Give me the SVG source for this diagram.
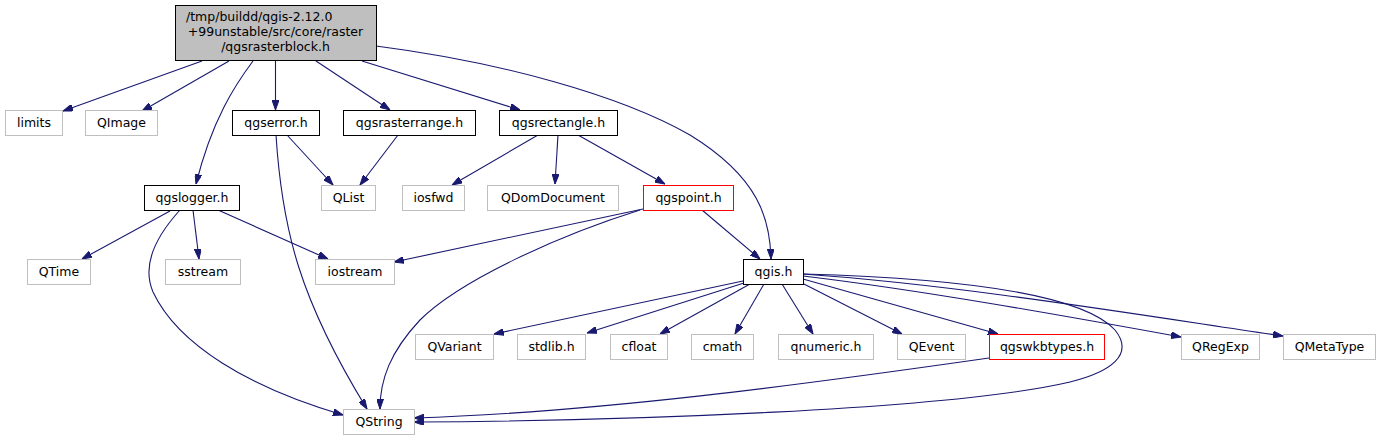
<svg xmlns="http://www.w3.org/2000/svg" width="1381" height="440" viewBox="0 0 1381 440">
<style>
.n rect{fill:#fff;stroke:#bfbfbf;stroke-width:1}
.d rect{stroke:#000}
.r rect{stroke:#ff0000}
.root rect{fill:#bfbfbf;stroke:#000}
text{font-family:"DejaVu Sans","Liberation Sans",sans-serif;font-size:12.5px;fill:#000;text-anchor:middle}
.e path{fill:none;stroke:#191970;stroke-width:1.1;marker-end:url(#ah)}
</style>
<defs>
<marker id="ah" viewBox="0 0 10 7" refX="10" refY="3.5" markerWidth="10" markerHeight="7" markerUnits="userSpaceOnUse" orient="auto">
<path d="M0,0 L10,3.5 L0,7 z" fill="#191970" stroke="#191970"/>
</marker>
</defs>
<rect width="1381" height="440" fill="#fff"/>
<g id="connectors" class="e">
<path d="M202,61 L63,111"/>
<path d="M229,61 L142,111"/>
<path d="M253,61 C235,85 212,120 196,184"/>
<path d="M275.5,61 L275.5,110"/>
<path d="M316,61 L390,110"/>
<path d="M362,61 L520,110"/>
<path d="M376,46 C500,62 620,95 690,135 C760,178 770,220 771,259"/>
<path d="M287,135 L333,185"/>
<path d="M276,135 C282,230 300,300 367,409"/>
<path d="M398,135 L360,185"/>
<path d="M538,135 L452,185"/>
<path d="M558,135 L555,184"/>
<path d="M578,135 L665,184"/>
<path d="M702,210 L760,259"/>
<path d="M643,209 L394,262"/>
<path d="M640,210 C560,235 460,280 420,320 C390,352 380,380 380,409"/>
<path d="M170,211 L82,259"/>
<path d="M193,210 L199,259"/>
<path d="M218,210 L328,259"/>
<path d="M180,210 C160,232 140,262 153,292 C178,345 250,388 343,415"/>
<path d="M743,281 L494,334"/>
<path d="M744,283 L587,333"/>
<path d="M750,284 L660,334"/>
<path d="M764,284 L735,334"/>
<path d="M782,284 L813,334"/>
<path d="M800,282 L902,334"/>
<path d="M803,279 L998,334"/>
<path d="M803,276 C920,290 1060,315 1181,337"/>
<path d="M803,274 C960,285 1140,315 1283,336"/>
<path d="M803,274 C950,278 1080,292 1115,330 C1135,355 1110,372 1070,382 C950,410 620,421 414,422"/>
<path d="M989,358 C800,385 600,412 414,418"/>
</g>
<g id="root" class="n root"><rect x="175.5" y="5.5" width="201" height="55"/>
<text x="186" y="21" style="text-anchor:start">/tmp/buildd/qgis-2.12.0</text>
<text x="275.5" y="36">+99unstable/src/core/raster</text>
<text x="275.5" y="51">/qgsrasterblock.h</text></g>
<g id="limits" class="n"><rect x="5.5" y="110.5" width="57" height="25"/><text x="34" y="127">limits</text></g>
<g id="QImage" class="n"><rect x="85.5" y="110.5" width="72" height="25"/><text x="121.5" y="127">QImage</text></g>
<g id="qgserror" class="n d"><rect x="232.5" y="110.5" width="87" height="25"/><text x="276" y="127">qgserror.h</text></g>
<g id="qgsrasterrange" class="n d"><rect x="343.5" y="110.5" width="132" height="25"/><text x="409.5" y="127">qgsrasterrange.h</text></g>
<g id="qgsrectangle" class="n d"><rect x="499.5" y="110.5" width="118" height="25"/><text x="558.5" y="127">qgsrectangle.h</text></g>
<g id="qgslogger" class="n d"><rect x="144.5" y="185.5" width="95" height="25"/><text x="192" y="202">qgslogger.h</text></g>
<g id="QList" class="n"><rect x="321.5" y="185.5" width="54" height="25"/><text x="348.5" y="202">QList</text></g>
<g id="iosfwd" class="n"><rect x="402.5" y="185.5" width="62" height="25"/><text x="433.5" y="202">iosfwd</text></g>
<g id="QDomDocument" class="n"><rect x="487.5" y="185.5" width="131" height="25"/><text x="553" y="202">QDomDocument</text></g>
<g id="qgspoint" class="n r"><rect x="643.5" y="185.5" width="90" height="25"/><text x="688.5" y="202">qgspoint.h</text></g>
<g id="QTime" class="n"><rect x="27.5" y="259.5" width="63" height="25"/><text x="59" y="276">QTime</text></g>
<g id="sstream" class="n"><rect x="165.5" y="259.5" width="75" height="25"/><text x="203" y="276">sstream</text></g>
<g id="iostream" class="n"><rect x="315.5" y="259.5" width="79" height="25"/><text x="355" y="276">iostream</text></g>
<g id="qgis" class="n d"><rect x="743.5" y="259.5" width="60" height="25"/><text x="773.5" y="276">qgis.h</text></g>
<g id="QVariant" class="n"><rect x="415.5" y="334.5" width="78" height="25"/><text x="454.5" y="351">QVariant</text></g>
<g id="stdlib" class="n"><rect x="517.5" y="334.5" width="68" height="25"/><text x="551.5" y="351">stdlib.h</text></g>
<g id="cfloat" class="n"><rect x="610.5" y="334.5" width="57" height="25"/><text x="639" y="351">cfloat</text></g>
<g id="cmath" class="n"><rect x="691.5" y="334.5" width="62" height="25"/><text x="722.5" y="351">cmath</text></g>
<g id="qnumeric" class="n"><rect x="778.5" y="334.5" width="95" height="25"/><text x="826" y="351">qnumeric.h</text></g>
<g id="QEvent" class="n"><rect x="897.5" y="334.5" width="68" height="25"/><text x="931.5" y="351">QEvent</text></g>
<g id="qgswkbtypes" class="n r"><rect x="989.5" y="334.5" width="115" height="25"/><text x="1047" y="351">qgswkbtypes.h</text></g>
<g id="QRegExp" class="n"><rect x="1181.5" y="334.5" width="78" height="25"/><text x="1220.5" y="351">QRegExp</text></g>
<g id="QMetaType" class="n"><rect x="1283.5" y="334.5" width="92" height="25"/><text x="1329.5" y="351">QMetaType</text></g>
<g id="QString" class="n"><rect x="343.5" y="409.5" width="71" height="25"/><text x="379" y="426">QString</text></g>
</svg>
